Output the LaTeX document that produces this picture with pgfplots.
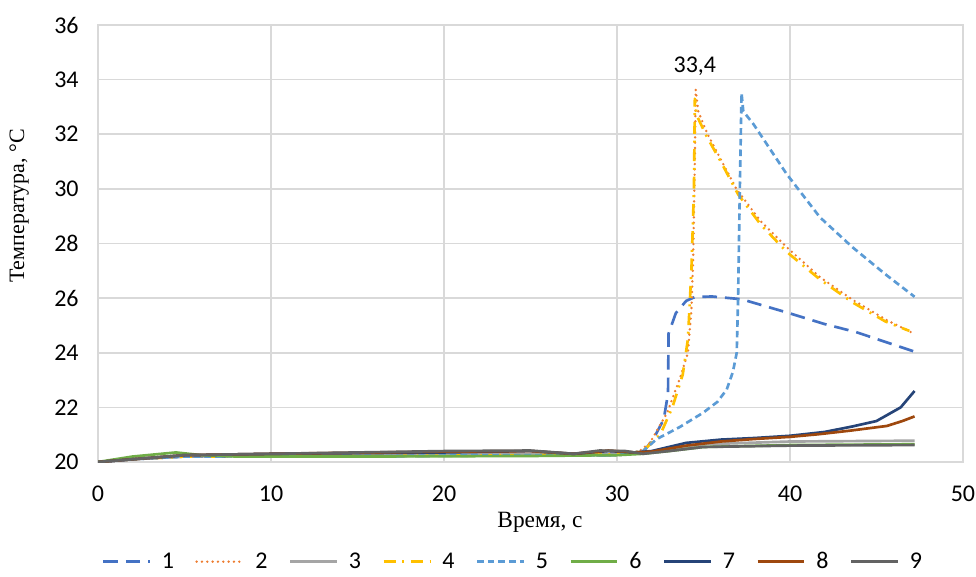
\documentclass[border=0pt]{standalone}
\usepackage{fontspec}
\setmainfont{Carlito}
\newfontfamily\timesf{Liberation Serif}
\usepackage{pgfplots}
\pgfplotsset{compat=1.18}
\definecolor{c1}{HTML}{4472C4}
\definecolor{c2}{HTML}{ED7D31}
\definecolor{c3}{HTML}{A5A5A5}
\definecolor{c4}{HTML}{FFC000}
\definecolor{c5}{HTML}{5B9BD5}
\definecolor{c6}{HTML}{70AD47}
\definecolor{c7}{HTML}{264478}
\definecolor{c8}{HTML}{9E480E}
\definecolor{c9}{HTML}{636363}
\definecolor{gridc}{HTML}{D9D9D9}
\begin{document}
\begin{tikzpicture}
\useasboundingbox (0,0) rectangle (732pt,432pt);
\begin{axis}[
  at={(73.5pt,85.5pt)}, anchor=south west,
  scale only axis, width=648.75pt, height=327.75pt,
  xmin=0, xmax=50, ymin=20, ymax=36,
  xtick={0,10,...,50}, ytick={20,22,...,36},
  grid=major, major grid style={draw=gridc, line width=1.3pt},
  axis line style={draw=gridc, line width=1.3pt},
  tick style={draw=none},
  /pgf/number format/assume math mode=true,
  ticklabel style={font=\fontsize{18}{20}\selectfont},
  xticklabel style={yshift=-14.5pt},
  yticklabel style={xshift=-11pt},
  xlabel={\timesf Время, с},
  ylabel={\timesf Температура, °С},
  xlabel style={font=\fontsize{17.5}{20}\selectfont, at={(axis description cs:0.511,-0.137)}, anchor=center},
  ylabel style={font=\fontsize{16.5}{19}\selectfont, at={(axis description cs:-0.091,0.586)}, anchor=center},
  legend style={at={(axis description cs:0.48,-0.228)}, anchor=center, draw=none, fill=none,
    font=\fontsize{18}{20}\selectfont,
    /tikz/every odd column/.append style={column sep=6pt},
    /tikz/every even column/.append style={column sep=14pt}},
  legend columns=9,
  legend image code/.code={\draw[#1] (0pt,0pt) -- (35pt,0pt);},
  every axis plot/.append style={line width=2pt, line join=round},
]
% 1
\addplot[c1, dash pattern=on 11pt off 6pt] coordinates {
(0,20) (2,20.1) (5,20.2) (15,20.2) (25,20.25) (30,20.25) (31.5,20.35) (32.1,20.84) (32.7,21.56) (32.95,22.5) (32.98,24.7) (33.4,25.45) (34.0,25.9) (34.5,26.04) (35.5,26.06) (37.2,25.96) (39.95,25.45) (42,25.05) (43.8,24.76) (45.5,24.4) (47.2,24.04)};
% 2
\addplot[c2, line cap=round, dash pattern=on 0pt off 4pt] coordinates {
(0,20) (2,20.1) (5,20.2) (15,20.22) (25,20.25) (30,20.25) (31.2,20.35) (31.9,20.7) (32.9,21.8) (33.6,23.0) (34.1,24.0) (34.3,25.56) (34.4,27.4) (34.5,31.0) (34.55,33.63) (34.7,32.84) (35.2,32.05) (35.95,31.14) (36.9,30.0) (38.27,28.84) (39.8,27.87) (41.73,26.77) (43.64,25.93) (45.58,25.2) (47.1,24.72)};
% 3
\addplot[c3] coordinates {
(0,20) (2,20.1) (5,20.2) (10,20.25) (20,20.28) (30,20.3) (31.5,20.32) (33,20.45) (35,20.65) (40,20.75) (47.2,20.78)};
% 4
\addplot[c4, dash pattern=on 9pt off 5pt on 1.5pt off 5pt] coordinates {
(0,20) (2,20.1) (5,20.2) (15,20.22) (25,20.25) (30,20.28) (31.5,20.4) (32.5,21) (33.2,22) (33.8,23.2) (34.1,24.5) (34.3,27) (34.45,30) (34.5,33.3) (34.6,32.7) (35.2,31.9) (36,31.0) (37,29.8) (38.3,28.7) (39.8,27.7) (41.7,26.7) (43.6,25.85) (45.5,25.15) (46.9,24.8)};
% 5
\addplot[c5, dash pattern=on 5pt off 3pt] coordinates {
(0,20) (2,20.1) (5,20.2) (15,20.22) (25,20.25) (30,20.25) (31.5,20.4) (32.3,20.84) (33.6,21.27) (34.97,21.8) (35.8,22.2) (36.34,22.65) (36.7,23.3) (36.92,24.0) (37.0,26) (37.1,30) (37.2,33.5) (37.3,32.84) (37.9,32.36) (39.8,30.55) (41.73,28.96) (43.6,27.87) (45.58,26.84) (47.2,26.05)};
% 6
\addplot[c6] coordinates {
(0,20) (2,20.2) (4.5,20.35) (6,20.25) (8,20.2) (15,20.2) (25,20.22) (30,20.25) (31.5,20.3) (33,20.4) (35,20.55) (40,20.62) (47.2,20.65)};
% 7
\addplot[c7] coordinates {
(0,20) (2,20.1) (5,20.25) (10,20.3) (20,20.35) (25,20.4) (27.5,20.3) (29.5,20.4) (31,20.35) (32,20.4) (33,20.55) (34,20.7) (36,20.82) (38,20.88) (40,20.96) (42,21.1) (43.6,21.3) (45,21.5) (46.4,22.0) (47.2,22.6)};
% 8
\addplot[c8] coordinates {
(0,20) (2,20.1) (5,20.25) (10,20.3) (20,20.38) (25,20.4) (27.5,20.3) (29.5,20.42) (31,20.35) (32,20.38) (34,20.6) (36,20.75) (37.9,20.84) (40,20.92) (41.7,21.02) (43.5,21.15) (45.6,21.32) (46.5,21.5) (47.2,21.67)};
% 9
\addplot[c9] coordinates {
(0,20) (2,20.1) (5,20.25) (10,20.3) (15,20.35) (20,20.4) (25,20.42) (27.5,20.3) (29,20.42) (30.5,20.4) (31.5,20.3) (33,20.4) (35,20.55) (40,20.6) (47.2,20.62)};
\legend{1,2,3,4,5,6,7,8,9}
\node[font=\fontsize{18}{20}\selectfont, anchor=center] at (axis cs:34.5,34.5) {33,4};
\end{axis}
\end{tikzpicture}
\end{document}
